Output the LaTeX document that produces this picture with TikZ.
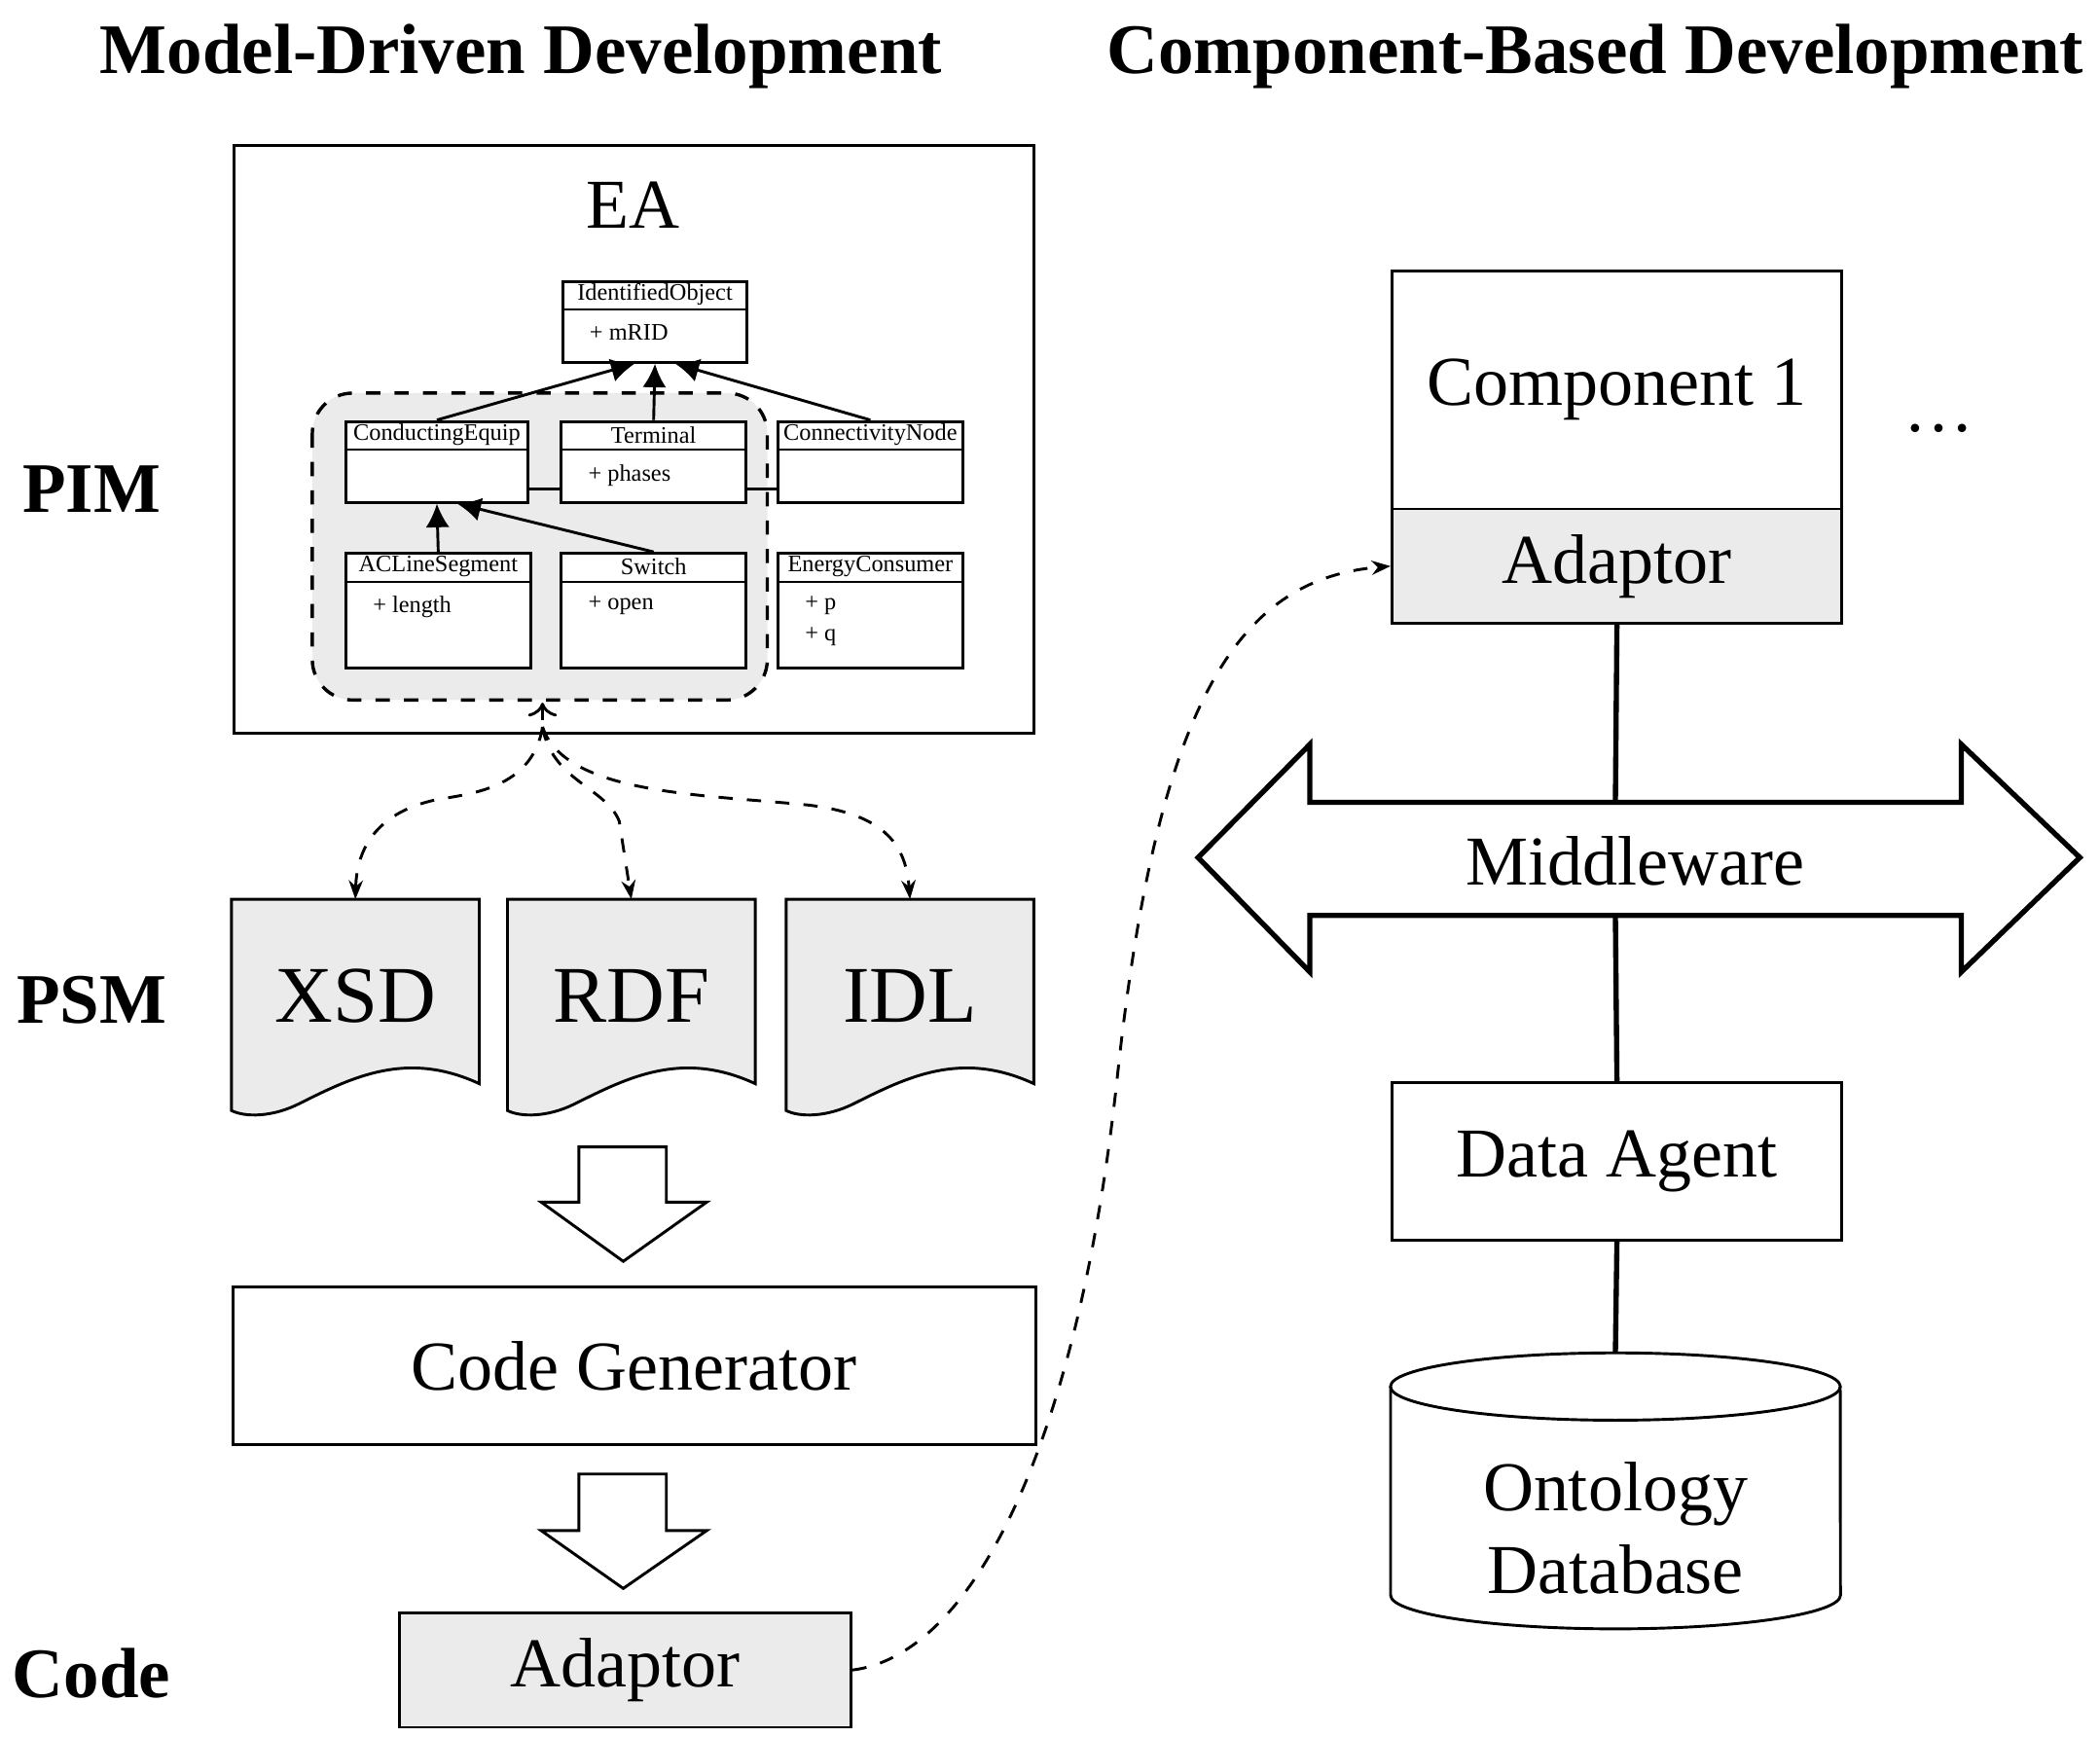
\documentclass[tikz,border=0pt]{standalone}
\usepackage{fontspec}
\setmainfont{Liberation Serif}
\usetikzlibrary{positioning,arrows.meta}

% uml class box: name, x, y (top left), width, height, title, attributes
\newcommand{\umlbox}[7]{%
  \node[cls, minimum width=#4*0.01cm, minimum height=#5*0.01cm, anchor=north west] (#1) at (#2,#3) {};
  \draw[thin] ([yshift=-0.22cm]#1.north west) -- ([yshift=-0.22cm]#1.north east);
  \node[font=\fontsize{5}{5.5}\selectfont, inner sep=0pt, anchor=center] at ([yshift=-0.11cm]#1.north) {#6};
  \node[font=\fontsize{5}{6.5}\selectfont, inner sep=0pt, anchor=north west, align=left] at ([xshift=0.2cm,yshift=-0.32cm]#1.north west) {#7};
}
% psm document with wavy bottom: name, left x, label
\newcommand{\psmdoc}[3]{%
  \draw[line width=0.6pt, fill=docgray] (#2,668) -- (#2+184,668) -- (#2+184,805)
     .. controls (#2+130,780) and (#2+90,800) .. (#2+50,820)
     .. controls (#2+30,830) and (#2+10,830) .. (#2,825) -- cycle;
  \node[big, font=\fontsize{17}{20}\selectfont] (#1) at (#2+92,740) {#3};
  \coordinate (#1top) at (#2+92,668);
}

\definecolor{docgray}{gray}{0.92}

\begin{document}
\begin{tikzpicture}[x=0.01cm, y=-0.01cm, line width=0.6pt,
    box/.style={draw, line width=0.6pt, inner sep=0pt, font=\fontsize{14.8}{18}\selectfont},
    cls/.style={draw, line width=0.6pt, fill=white, inner sep=0pt},
    big/.style={font=\fontsize{14.8}{18}\selectfont, inner sep=0pt},
    ttl/.style={font=\bfseries\fontsize{15}{18}\selectfont, inner sep=0pt},
    inh/.style={-{Latex[length=5pt,width=5pt]}, line width=0.6pt},
    dsh/.style={dashed, line width=0.6pt, -{Stealth[length=4pt,width=3pt]}},
    blk/.style={draw, line width=0.6pt, fill=white}]
\useasboundingbox (0,0) rectangle (1560,1290);

% titles and levels
\node[ttl] (mdd) at (387,42) {Model-Driven Development};
\node[ttl] (cbd) at (1185,42) {Component-Based Development};
\node[ttl] (pim) at (68,363) {PIM};
\node[ttl] (psm) at (68,743) {PSM};
\node[ttl] (code) at (68,1243) {Code};

% EA model
\draw (174,108) rectangle (768,545);
\node[big] (ea) at (470,152) {EA};
\draw[dashed, line width=0.7pt, fill=docgray, rounded corners=0.3cm] (232,292) rectangle (570,520);
\coordinate (reg) at (403,522);

\umlbox{ido}{417}{208}{137}{60}{IdentifiedObject}{+ mRID}
\umlbox{ceq}{256}{312}{135}{60}{ConductingEquip}{}
\umlbox{ter}{416}{312}{137}{60}{Terminal}{+ phases}
\umlbox{cnn}{577}{312}{137}{60}{ConnectivityNode}{}
\umlbox{acl}{256}{410}{137}{85}{ACLineSegment}{+ length}
\umlbox{swi}{416}{410}{137}{85}{Switch}{+ open}
\umlbox{ecs}{577}{410}{137}{85}{EnergyConsumer}{+ p\\+ q}

\draw[inh] (ceq.north) -- ([xshift=-0.15cm]ido.south);
\draw[inh] (ter.north) -- (ido.south);
\draw[inh] (cnn.north) -- ([xshift=0.15cm]ido.south);
\draw[inh] (acl.north) -- (ceq.south);
\draw[inh] (swi.north) -- ([xshift=0.15cm]ceq.south);
\draw ([yshift=-0.2cm]ceq.east) -- ([yshift=-0.2cm]ter.west);
\draw ([yshift=-0.2cm]ter.east) -- ([yshift=-0.2cm]cnn.west);

% PSM documents
\psmdoc{xsd}{172}{XSD}
\psmdoc{rdf}{377}{RDF}
\psmdoc{idl}{584}{IDL}
\draw[dsh, <-] (reg) -- (403,540);
\draw[dsh] (403,540) .. controls (395,590) and (340,590) .. (320,595)
   .. controls (280,605) and (265,630) .. (xsdtop);
\draw[dsh] (403,540) .. controls (410,580) and (450,585) .. (460,610) -- (rdftop);
\draw[dsh] (403,540) .. controls (420,590) and (520,590) .. (600,598)
   .. controls (660,605) and (673,630) .. (idltop);

% block arrows
\draw[blk] (430,852) -- (495,852) -- (495,893) -- (525,893) -- (463,937) -- (402,893) -- (430,893) -- cycle;
\node[box, minimum width=5.96cm, minimum height=1.17cm, anchor=north west] (gen) at (172,955) {Code Generator};
\draw[blk] (430,1095) -- (495,1095) -- (495,1137) -- (525,1137) -- (463,1180) -- (402,1137) -- (430,1137) -- cycle;
\node[box, fill=docgray, minimum width=3.35cm, minimum height=0.85cm, anchor=north west] (adp) at (296,1197) {Adaptor};

% component side
\node[box, minimum width=3.34cm, minimum height=1.77cm, anchor=north west] (comp) at (1033,200) {Component 1};
\node[box, fill=docgray, minimum width=3.34cm, minimum height=0.85cm, anchor=north west] (cadp) at (1033,377) {Adaptor};
\node[big] (dots) at (1440,318) {\dots};
\draw[dsh] (adp.east) .. controls (720,1230) and (800,1080) .. (830,800)
   .. controls (860,520) and (920,430) .. (cadp.west);

\draw[line width=1.1pt, fill=white] (890,637) -- (973,553) -- (973,596) -- (1457,596) -- (1457,553)
   -- (1545,637) -- (1457,722) -- (1457,680) -- (973,680) -- (973,722) -- cycle;
\node[big] (mid) at (1215,640) {Middleware};
\coordinate (midtop) at (1200,596);
\coordinate (midbot) at (1200,680);

\node[box, minimum width=3.34cm, minimum height=1.17cm, anchor=north west] (agent) at (1033,803) {Data Agent};

% ontology database
\draw (1033,1030) -- (1033,1185) arc[x radius=1.67cm, y radius=0.25cm, start angle=180, end angle=360] -- (1367,1030);
\draw (1200,1030) ellipse[x radius=1.67cm, y radius=0.25cm];
\node[big, align=center, font=\fontsize{14.8}{17.5}\selectfont] (db) at (1200,1135) {Ontology\\Database};
\coordinate (dbtop) at (1200,1005);

\draw[line width=1.1pt] (cadp.south) -- (midtop);
\draw[line width=1.1pt] (midbot) -- (agent.north);
\draw[line width=1.1pt] (agent.south) -- (dbtop);
\end{tikzpicture}
\end{document}
